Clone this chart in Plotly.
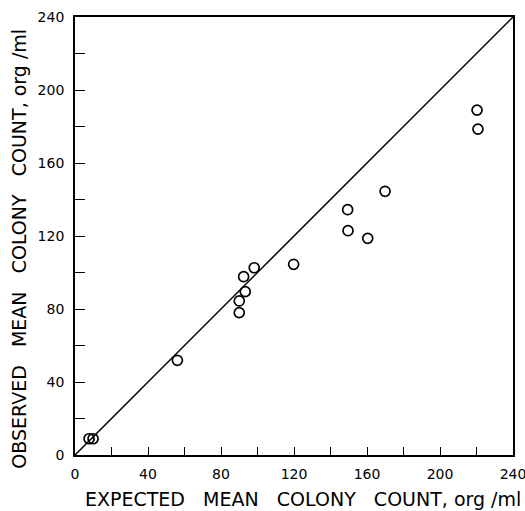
import plotly.graph_objects as go

expected = [7.7, 9.9, 56.1, 90.0, 90.0, 93.3, 92.4, 98.2, 119.8, 149.4, 149.6, 160.4, 169.9, 220.3, 220.8]
observed = [8.9, 8.9, 51.9, 78.0, 84.4, 89.5, 97.7, 102.6, 104.5, 134.4, 122.9, 118.7, 144.5, 189.0, 178.6]

line_x = [0, 240]
line_y = [0, 240]

tick_vals = [0, 20, 40, 60, 80, 100, 120, 140, 160, 180, 200, 220, 240]
tick_text = ["0", "", "40", "", "80", "", "120", "", "160", "", "200", "", "240"]

x_title = "EXPECTED   MEAN   COLONY   COUNT, org /ml"
y_title = "OBSERVED   MEAN   COLONY   COUNT, org /ml"

font_family = "DejaVu Sans, Liberation Sans, Arial, sans-serif"

fig = go.Figure()
fig.add_trace(go.Scatter(x=line_x, y=line_y, mode="lines",
                         line=dict(color="black", width=1.5), hoverinfo="skip"))
fig.add_trace(go.Scatter(x=expected, y=observed, mode="markers",
                         marker=dict(symbol="circle-open", size=10, color="black",
                                     line=dict(width=1.7, color="black"))))

axis_common = dict(range=[0, 240], tickmode="array", tickvals=tick_vals, ticktext=tick_text,
                   ticks="inside", tickcolor="black", tickwidth=1.3,
                   showline=True, linecolor="black", linewidth=1.8, mirror=True,
                   showgrid=False, zeroline=False, automargin=False,
                   ticklabeloverflow="allow",
                   tickfont=dict(family=font_family, size=14, color="black"))

fig.update_xaxes(**axis_common, ticklen=8, ticklabelstandoff=5)
fig.update_yaxes(**axis_common, ticklen=10, ticklabelstandoff=6)

title_font = dict(family=font_family, size=19, color="black")
fig.add_annotation(text=x_title, xref="paper", yref="paper", x=0.52, y=0,
                   xanchor="center", yanchor="middle", yshift=-44, showarrow=False,
                   font=title_font)
fig.add_annotation(text=y_title, xref="paper", yref="paper", x=0, y=0.471,
                   xanchor="center", yanchor="middle", xshift=-56, textangle=-90,
                   showarrow=False, font=title_font)

fig.update_layout(width=525, height=511, showlegend=False,
                  plot_bgcolor="white", paper_bgcolor="white",
                  margin=dict(l=75, r=12, t=17, b=56))

# remove the default page margin so the figure fills the window exactly
fig.write_html("out.html", config={"displayModeBar": False},
               post_script="document.body.style.margin='0';")
